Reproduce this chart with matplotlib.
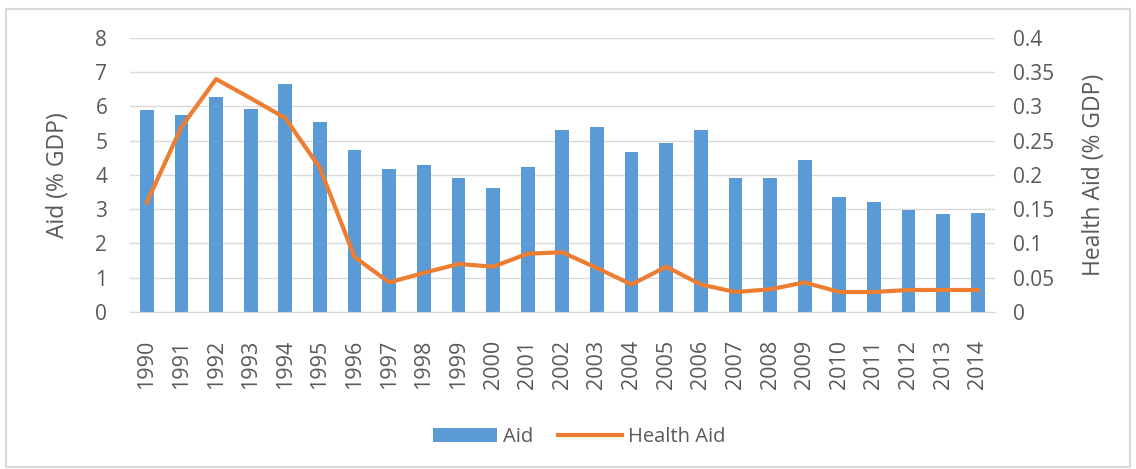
import numpy as np
import matplotlib
matplotlib.use('Agg')
import matplotlib.pyplot as plt
from matplotlib.patches import Rectangle

plt.rcParams['font.family'] = ['Open Sans', 'DejaVu Sans']

# 数据
years = [str(y) for y in range(1990, 2015)]
aid = [5.9, 5.75, 6.28, 5.93, 6.66, 5.55, 4.73, 4.18, 4.29, 3.91, 3.62, 4.23, 5.31,
       5.4, 4.67, 4.93, 5.31, 3.91, 3.91, 4.44, 3.36, 3.21, 2.98, 2.86, 2.89]
health_aid = [0.16, 0.27, 0.34, 0.312, 0.283, 0.21, 0.08, 0.043, 0.057, 0.07, 0.066,
              0.085, 0.087, 0.064, 0.04, 0.066, 0.04, 0.029, 0.033, 0.043, 0.029,
              0.029, 0.032, 0.032, 0.032]

grey = '#595959'
fig = plt.figure(figsize=(11.36, 4.69), dpi=100)
fig.patches.append(Rectangle((0.005, 0.005), 0.99, 0.975, transform=fig.transFigure,
                             fill=False, edgecolor='#d9d9d9', lw=1.5))

ax = fig.add_axes([0.114, 0.335, 0.762, 0.584])
x = np.arange(len(years))
ax.bar(x, aid, width=0.4, color='#5b9bd5', label='Aid', zorder=2)
ax.set_ylim(0, 8)
ax.set_yticks(range(0, 9))
ax.set_xlim(-0.5, len(years) - 0.5)
ax.set_xticks(x)
ax.set_xticklabels(years, rotation=90)
ax.grid(axis='y', color='#d9d9d9', lw=1, zorder=0)
ax.set_ylabel('Aid (% GDP)', color=grey, fontsize=16.5, labelpad=18)

ax2 = ax.twinx()
ax2.plot(x, health_aid, color='#ed7d31', lw=3, label='Health Aid', zorder=3)
ax2.set_ylim(0, 0.4)
ax2.set_yticks(np.arange(0, 0.41, 0.05))
ax2.set_yticklabels(['0', '0.05', '0.1', '0.15', '0.2', '0.25', '0.3', '0.35', '0.4'])
ax2.set_ylabel('Health Aid (% GDP)', color=grey, fontsize=16.5, labelpad=20)

for a in (ax, ax2):
    for s in a.spines.values():
        s.set_visible(False)
    a.tick_params(length=0, colors=grey, labelsize=15)
ax.spines['bottom'].set_visible(True)
ax.spines['bottom'].set_color('#d9d9d9')
ax.tick_params(axis='x', pad=20, labelsize=15.5)
ax.tick_params(axis='y', pad=16)
ax2.tick_params(axis='y', pad=13)

h1, l1 = ax.get_legend_handles_labels()
h2, l2 = ax2.get_legend_handles_labels()
fig.legend(h1 + h2, l1 + l2, loc='center', bbox_to_anchor=(0.51, 0.068), ncol=2,
           frameon=False, fontsize=14.5, labelcolor=grey, handlelength=3.2,
           handletextpad=0.3, columnspacing=1.2)

fig.savefig('out.png', dpi=100)
